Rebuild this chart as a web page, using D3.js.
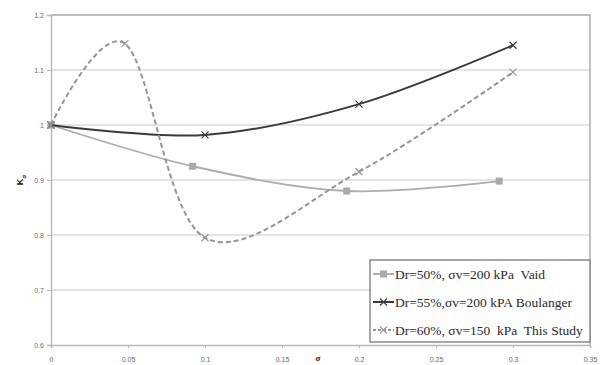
<!DOCTYPE html>
<html>
<head>
<meta charset="utf-8">
<script src="https://cdn.jsdelivr.net/npm/d3@7"></script>
<style>
  html, body { margin: 0; padding: 0; background: #fff; }
  svg { display: block; }
</style>
</head>
<body>
<svg id="chart" width="602" height="365"></svg>
<script>
// K-sigma versus vertical stress ratio, three studies
const xTicks = [0, 0.05, 0.1, 0.15, 0.2, 0.25, 0.3, 0.35];
const yTicks = [0.6, 0.7, 0.8, 0.9, 1, 1.1, 1.2];

const vaidX = [0, 0.092, 0.192, 0.291];
const vaidY = [1.0, 0.925, 0.880, 0.898];

const boulangerX = [0, 0.1, 0.2, 0.3];
const boulangerY = [1.0, 0.982, 1.038, 1.145];

const studyX = [0, 0.048, 0.1, 0.2, 0.3];
const studyY = [1.0, 1.148, 0.795, 0.915, 1.096];

const seriesNames = [
  "Dr=50%, σv=200 kPa  Vaid",
  "Dr=55%,σv=200 kPA Boulanger",
  "Dr=60%, σv=150  kPa  This Study"
];

const svg = d3.select("#chart");
const plotLeft = 51, plotRight = 590, plotTop = 15, plotBottom = 345;

const x = d3.scaleLinear().domain([0, 0.35]).range([plotLeft, plotRight]);
const y = d3.scaleLinear().domain([0.6, 1.2]).range([plotBottom, plotTop]);

// horizontal gridlines
svg.append("g")
  .selectAll("line")
  .data(yTicks.filter(d => d > 0.6 && d < 1.2))
  .join("line")
  .attr("x1", plotLeft).attr("x2", plotRight)
  .attr("y1", d => y(d)).attr("y2", d => y(d))
  .attr("stroke", "#c9c9c9").attr("stroke-width", 1.2);

// plot frame: top and right edges
svg.append("path")
  .attr("d", `M${plotLeft},${y(1.2)}H${plotRight}V${plotBottom}`)
  .attr("fill", "none").attr("stroke", "#a8a8a8").attr("stroke-width", 1.4);

// axes
const fmt = d => d3.format("~g")(d);
const xAxis = svg.append("g")
  .attr("transform", `translate(0,${plotBottom})`)
  .call(d3.axisBottom(x).tickValues(xTicks).tickFormat(fmt).tickSize(3).tickPadding(9));
const yAxis = svg.append("g")
  .attr("transform", `translate(${plotLeft},0)`)
  .call(d3.axisLeft(y).tickValues(yTicks).tickFormat(fmt).tickSize(4).tickPadding(3));

[xAxis, yAxis].forEach(g => {
  g.select(".domain").attr("stroke", "#b8b8b8").attr("stroke-width", 1.4);
  g.selectAll(".tick line").attr("stroke", "#b8b8b8").attr("stroke-width", 1);
  g.selectAll(".tick text")
    .attr("fill", "#6a6a6a")
    .style("font-family", "'Liberation Sans', Arial, sans-serif")
    .style("font-size", "7px");
});

// axis titles
const yTitle = svg.append("text")
  .attr("transform", `translate(23,${y(0.9)}) rotate(-90)`)
  .attr("text-anchor", "middle")
  .style("font-family", "'Liberation Sans', Arial, sans-serif")
  .style("font-weight", "bold")
  .style("font-size", "9px")
  .attr("fill", "#111");
yTitle.append("tspan").text("K");
yTitle.append("tspan").attr("dy", 2.5).style("font-size", "6px").text("σ");

svg.append("text")
  .attr("x", 318).attr("y", 361)
  .attr("text-anchor", "middle")
  .style("font-family", "'Liberation Serif', serif")
  .style("font-weight", "bold")
  .style("font-size", "9px")
  .attr("fill", "#222")
  .text("σ");

const line = d3.line()
  .x(d => x(d[0])).y(d => y(d[1]))
  .curve(d3.curveCardinal.tension(0));

const series = [
  { xs: vaidX, ys: vaidY, color: "#acacac", width: 1.8, dash: null, marker: "square" },
  { xs: boulangerX, ys: boulangerY, color: "#3a3a3a", width: 2, dash: null, marker: "cross" },
  { xs: studyX, ys: studyY, color: "#959595", width: 2, dash: "5,3", marker: "cross" }
];

function drawMarker(g, type, cx, cy, color) {
  if (type === "square") {
    g.append("rect")
      .attr("x", cx - 3.5).attr("y", cy - 3.5)
      .attr("width", 7).attr("height", 7)
      .attr("fill", "#aaaaaa");
  } else {
    g.append("path")
      .attr("d", `M${cx - 3.5},${cy - 3.5}L${cx + 3.5},${cy + 3.5}M${cx - 3.5},${cy + 3.5}L${cx + 3.5},${cy - 3.5}`)
      .attr("stroke", color).attr("stroke-width", 1.1).attr("fill", "none");
  }
}

series.forEach(s => {
  const pts = s.xs.map((v, i) => [v, s.ys[i]]);
  const g = svg.append("g");
  g.append("path")
    .datum(pts)
    .attr("d", line)
    .attr("fill", "none")
    .attr("stroke", s.color)
    .attr("stroke-width", s.width)
    .attr("stroke-dasharray", s.dash);
  pts.forEach(p => drawMarker(g, s.marker, x(p[0]), y(p[1]), s.color));
});

// legend
const lg = svg.append("g");
lg.append("rect")
  .attr("x", 370).attr("y", 260)
  .attr("width", 220).attr("height", 82)
  .attr("fill", "#fff")
  .attr("stroke", "#8a8a8a").attr("stroke-width", 1.5);

const rowY = [274, 302, 330];
series.forEach((s, i) => {
  const ry = rowY[i];
  lg.append("line")
    .attr("x1", 373).attr("x2", 394)
    .attr("y1", ry).attr("y2", ry)
    .attr("stroke", s.color).attr("stroke-width", 2)
    .attr("stroke-dasharray", s.dash ? "3,2" : null);
  drawMarker(lg, s.marker, 383.5, ry, s.color);
  lg.append("text")
    .attr("x", 395).attr("y", ry + 4.5)
    .style("font-family", "'Liberation Serif', 'Times New Roman', serif")
    .style("font-size", "13.5px")
    .style("white-space", "pre")
    .attr("fill", "#2a2a2a")
    .text(seriesNames[i]);
});
</script>
</body>
</html>
